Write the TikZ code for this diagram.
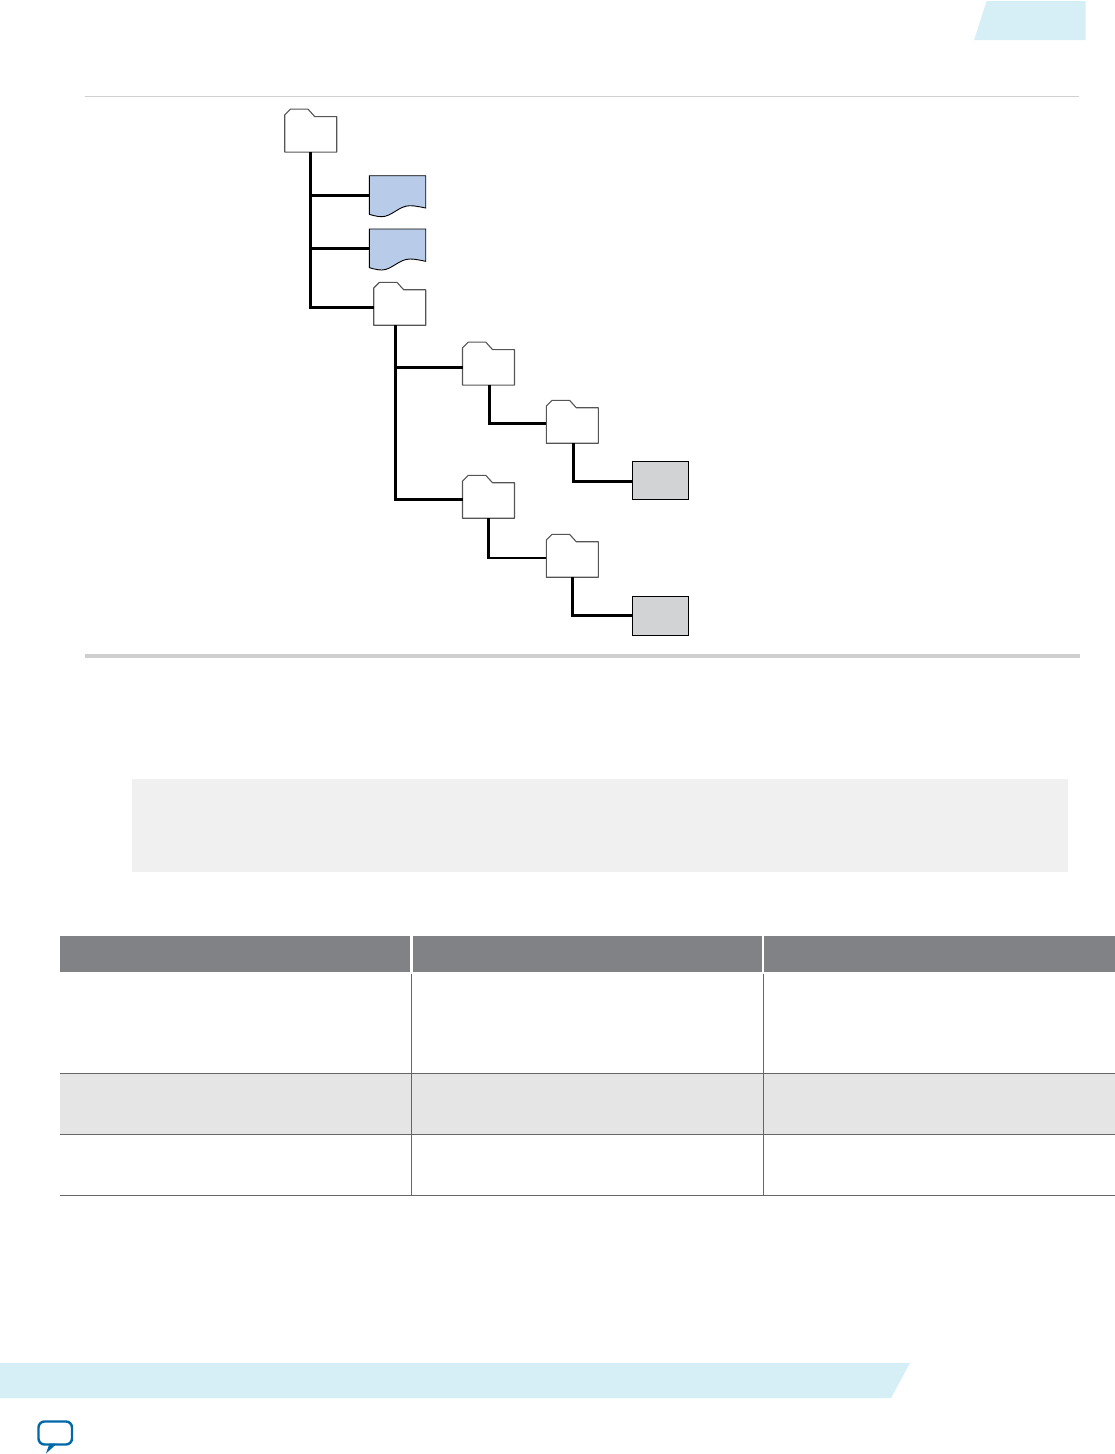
\documentclass[tikz,border=0pt]{standalone}
\usepackage{tikz}
\usetikzlibrary{positioning,arrows.meta,calc}

\definecolor{bandblue}{HTML}{D6EEF6}
\definecolor{docblue}{HTML}{B8CCE9}
\definecolor{boxgray}{HTML}{D1D3D4}
\definecolor{rulegray}{HTML}{CFCFCF}
\definecolor{notegray}{HTML}{F0F0F0}
\definecolor{headgray}{HTML}{808285}
\definecolor{rowgray}{HTML}{E5E5E5}
\definecolor{gridgray}{HTML}{666666}
\definecolor{edgegray}{HTML}{555555}
\definecolor{bubbleblue}{HTML}{0068A8}

\tikzset{
  folderbox/.style={rectangle,outer sep=0pt,inner sep=0pt,minimum width=52pt,minimum height=35.5pt},
  foldertab/.style={draw=edgegray,fill=white,line width=1.1pt,line join=round},
  docbox/.style={rectangle,inner sep=0pt,outer sep=0pt,minimum width=56.4pt,minimum height=41pt},
  docline/.style={draw=black,fill=docblue,line width=0.9pt},
  binbox/.style={rectangle,draw=black,fill=boxgray,line width=0.9pt,outer sep=0pt,
    inner sep=0pt,minimum width=56.4pt,minimum height=38.5pt},
  conn/.style={line width=2.9pt,black},
  gridline/.style={line width=1pt,gridgray}
}

\begin{document}
\begin{tikzpicture}[x=1pt,y=-1pt]
\useasboundingbox (0,0) rectangle (1115,1454);
% page bands
\fill[bandblue] (974,40) -- (986.7,1) -- (1085.7,1) -- (1085.7,40) -- cycle;
\fill[bandblue] (0,1363) -- (910,1363) -- (891,1398) -- (0,1398) -- cycle;
\draw[line width=2.4pt,bubbleblue,rounded corners=6pt,fill=white]
  (38.5,1421.5) -- (72,1421.5) -- (72,1444.5) -- (38.5,1444.5) -- cycle;
\fill[bubbleblue] (57,1443.5) -- (46,1453.5) -- (49.5,1443.5) -- cycle;
% rules
\draw[line width=1pt,rulegray] (85,96.5) -- (1079,96.5);
\draw[line width=3.5pt,rulegray] (85,656) -- (1080,656);
\fill[notegray] (132,779) rectangle (1068,872);
% folders
\foreach \nm/\px/\py in {root/310.7/134.3,sub/399.7/307.5,proja/488.5/367.3,
    outa/572.3/425.5,projb/488.5/500.5,outb/572.3/559.5} {
  \node[folderbox] (\nm) at (\px,\py) {};
  \draw[foldertab] (\nm.south west) -- ++(0,-37.2) -- ++(5.7,-5.7) -- ++(17.6,0)
    -- ++(6.7,7.4) -- (\nm.north east) -- (\nm.south east) -- cycle;
}
% documents
\foreach \nm/\py in {docone/196.2,doctwo/249.5} {
  \node[docbox] (\nm) at (397.5,\py) {};
  \draw[docline] (\nm.north west) -- (\nm.north east) -- ++(0,32.3)
    .. controls +(-5,-1) and +(5,0) .. ++(-15.7,-2.3)
    .. controls +(-11,0) and +(10,0) .. ++(-28.3,11)
    .. controls +(-4,0) and +(3,1) .. ++(-12.4,-2.4) -- cycle;
}
\node[binbox] (bina) at (660.5,480.3) {};
\node[binbox] (binb) at (660.5,615.8) {};
% tree
\draw[conn] (root.south) |- ([yshift=.9pt]docone.west);
\draw[conn] (root.south) |- ([yshift=1.2pt]doctwo.west);
\draw[conn] (root.south) |- (sub.west);
\draw[conn] ([xshift=-4.4pt]sub.south) |- (proja.west);
\draw[conn] ([xshift=-4.4pt]sub.south) |- ([yshift=1.2pt]projb.west);
\draw[conn] ([xshift=.8pt]proja.south) |- ([yshift=1.8pt]outa.west);
\draw[conn] ([xshift=1pt]outa.south) |- ([yshift=-1pt]bina.west);
\draw[conn] ([xshift=-.2pt]projb.south) |- ([yshift=1.5pt]outb.west);
\draw[conn] (outb.south) |- (binb.west);
% table
\foreach \xa/\xb in {60/410,413/761.5,764/1115}
  \fill[headgray] (\xa,936) rectangle (\xb,971.7);
\fill[rowgray] (60,1073.5) rectangle (1115,1134.5);
\foreach \yy in {1073.5,1134.5,1195.5}
  \draw[gridline] (60,\yy) -- (1115,\yy);
\foreach \xx in {411.5,763.5}
  \draw[gridline] (\xx,973.5) -- (\xx,1195.5);
\end{tikzpicture}
\end{document}
